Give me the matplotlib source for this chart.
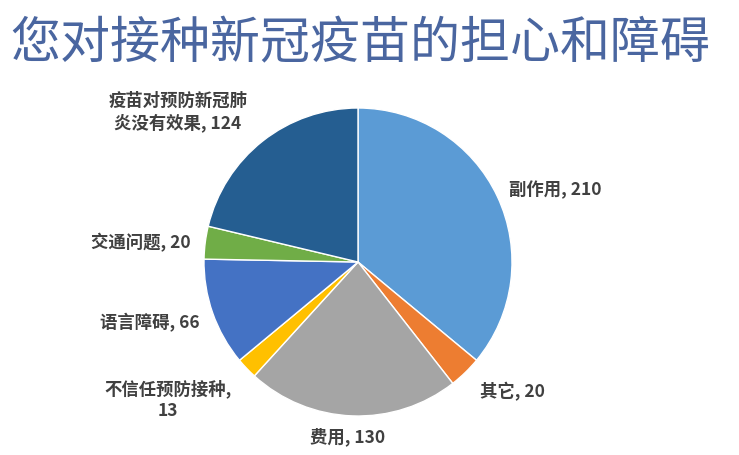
import matplotlib
matplotlib.use('Agg')
import matplotlib.pyplot as plt

plt.rcParams['font.family'] = ['Noto Sans CJK SC', 'DejaVu Sans']

# data, clockwise from 12 o'clock
categories = ['副作用', '其它', '费用', '不信任预防接种', '语言障碍', '交通问题',
              '疫苗对预防新冠肺炎没有效果']
values = [210, 20, 130, 13, 66, 20, 124]
colors = ['#5B9BD5', '#ED7D31', '#A5A5A5', '#FFC000', '#4472C4', '#70AD47', '#255E91']
label_texts = ['副作用, 210', '其它, 20', '费用, 130', '不信任预防接种,\n13',
               '语言障碍, 66', '交通问题, 20', '疫苗对预防新冠肺\n炎没有效果, 124']

# label layout in pixel coords (x, y from top, alignment)
label_pos = [(509, 190, 'left'), (512, 392, 'center'), (348, 437, 'center'),
             (168, 400, 'center'), (150, 323, 'center'), (141, 243, 'center'),
             (178, 112, 'center')]

W, H = 739, 455
fig = plt.figure(figsize=(W / 100, H / 100), dpi=100)
ax = fig.add_axes([0, 0, 1, 1])
ax.set_xlim(0, W)
ax.set_ylim(0, H)
ax.axis('off')

ax.pie(values, colors=colors, startangle=90, counterclock=False,
       center=(358, H - 262), radius=154,
       wedgeprops=dict(edgecolor='white', linewidth=1.0))
ax.set_aspect('equal')
ax.set_xlim(0, W)
ax.set_ylim(0, H)

for txt, (x, y, ha) in zip(label_texts, label_pos):
    ax.text(x, H - y, txt, ha=ha, va='center', fontsize=12.5, color='#404040',
            fontweight='bold', linespacing=1.3, multialignment='center')

fig.text(10 / W, 1 - 44 / H, '您对接种新冠疫苗的担心和障碍', ha='left', va='center',
         fontsize=36, color='#4A66A0', fontweight='normal')

fig.savefig('out.png', dpi=100)
